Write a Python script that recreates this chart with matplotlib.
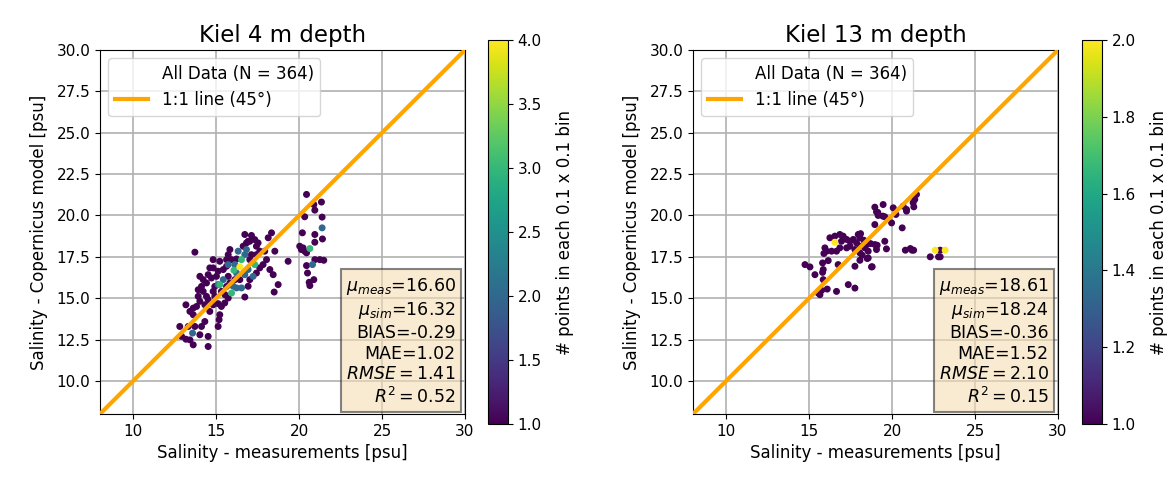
import numpy as np
import matplotlib
matplotlib.use("Agg")
import matplotlib.pyplot as plt

# ---------------------------------------------------------------------------
# Data (salinity, psu) + points per 0.1 x 0.1 bin
# ---------------------------------------------------------------------------
# Kiel 4 m depth
meas_4m = [20.45, 20.89, 21.35, 20.95, 20.34, 21.39, 21.39, 20.20, 20.95, 21.41,
           20.95, 20.04, 20.14, 20.34, 20.45, 20.65, 20.24, 20.95, 21.25, 21.49,
           20.81, 20.45, 20.51, 20.89, 20.65, 20.61,
           13.72, 14.82, 14.62, 16.73, 17.13, 17.33, 17.53, 18.34, 18.14, 16.83,
           17.03, 16.63, 16.33, 16.83, 15.83, 15.73, 15.93, 15.63, 15.22, 16.23,
           16.53, 17.13, 17.43, 17.63, 17.93, 18.54, 18.04, 17.83, 18.24, 18.44,
           19.34, 18.74, 18.50, 17.63, 17.43, 17.03, 16.93, 17.23, 17.33, 16.93,
           16.43, 16.07, 16.73, 16.43, 16.13, 16.23, 15.93, 15.73, 15.63, 15.43,
           15.12, 14.92, 15.32, 15.52, 15.32, 15.12, 14.82, 15.22, 15.18, 15.12,
           14.52, 14.32, 14.02, 13.82, 13.62, 13.18, 13.42, 13.92, 14.22, 14.12,
           14.42, 14.22, 14.02, 14.52, 14.72, 14.82, 15.12, 15.43, 15.63, 15.02,
           15.73, 13.62, 12.81, 13.32, 13.72, 14.12, 13.58, 14.02, 14.52, 13.18,
           13.42, 13.62, 14.52, 12.92, 14.32, 14.62, 14.92, 15.73, 16.23, 15.83,
           16.53, 16.73, 16.93, 17.43, 17.03, 16.73, 16.13, 15.22, 16.03, 15.53,
           14.82, 13.92, 14.42]
sim_4m = [21.27, 20.66, 20.81, 20.32, 19.92, 19.90, 19.25, 18.95, 18.85, 18.58,
          18.38, 18.14, 17.94, 17.84, 17.74, 18.00, 18.04, 17.33, 17.33, 17.29,
          17.03, 16.97, 16.52, 16.12, 15.76, 15.96,
          17.78, 17.33, 16.83, 18.85, 18.79, 18.54, 18.34, 18.95, 18.65, 18.34,
          18.44, 18.14, 17.84, 17.94, 17.94, 17.63, 17.33, 17.33, 17.23, 17.37,
          17.33, 17.63, 17.63, 17.84, 17.84, 17.84, 17.33, 17.03, 16.73, 16.42,
          17.23, 15.82, 15.37, 16.83, 16.52, 16.12, 15.72, 16.32, 17.03, 16.73,
          16.89, 16.69, 16.42, 16.12, 16.12, 15.62, 15.31, 15.01, 15.71, 16.12,
          15.82, 15.71, 15.41, 14.71, 14.50, 14.67, 14.60, 14.00, 13.70, 13.29,
          14.91, 14.60, 14.81, 14.50, 14.40, 14.60, 14.20, 15.11, 15.41, 15.71,
          15.92, 16.12, 16.32, 16.42, 16.22, 16.83, 16.63, 16.73, 16.93, 16.32,
          16.32, 14.00, 13.29, 13.29, 13.29, 13.29, 12.89, 12.79, 12.69, 12.52,
          12.48, 12.18, 12.08, 12.69, 13.59, 14.20, 15.11, 17.03, 16.52, 15.92,
          15.62, 15.07, 18.44, 18.14, 17.33, 17.63, 17.03, 15.82, 15.72, 15.21,
          15.41, 15.51, 15.11]
count_4m = [1, 1, 1, 1, 1, 1, 2, 1, 1, 1,
            1, 1, 1, 1, 1, 3, 1, 1, 1, 1,
            2, 1, 1, 1, 1, 1,
            1, 1, 1, 1, 1, 1, 1, 1, 1, 1,
            1, 1, 2, 2, 1, 1, 1, 1, 1, 1,
            3, 1, 1, 1, 1, 1, 1, 1, 1, 1,
            1, 1, 1, 1, 1, 1, 1, 2, 3, 2,
            4, 3, 2, 1, 1, 2, 3, 1, 1, 2,
            2, 1, 1, 1, 1, 1, 1, 1, 1, 1,
            1, 1, 1, 1, 1, 1, 1, 1, 1, 1,
            1, 1, 1, 1, 1, 1, 1, 1, 1, 1,
            1, 1, 1, 1, 1, 1, 2, 1, 1, 1,
            1, 1, 1, 1, 1, 1, 1, 2, 2, 1,
            2, 1, 1, 1, 1, 2, 2, 3, 2, 1,
            1, 1, 1]

# Kiel 13 m depth
meas_13m = [14.75, 15.05, 15.35, 15.81, 15.85, 15.81, 16.15, 15.95, 16.05, 15.89,
            16.25, 16.55, 16.85, 17.05, 17.26, 16.55, 16.95, 17.46, 17.66, 17.96,
            18.06, 17.86, 16.85, 17.26, 17.46, 17.76, 18.06, 18.36, 18.46, 16.35,
            16.65, 18.06, 18.56, 18.96, 19.06, 19.66, 19.56, 16.75, 17.76, 18.06,
            18.56, 18.76, 15.85, 16.09, 15.55, 15.75, 16.65, 17.36, 17.76, 15.65,
            18.96, 19.06, 19.46, 19.16, 19.56, 20.07, 20.23, 20.67, 20.87, 21.27,
            21.37, 21.47, 19.97, 18.96, 20.61, 21.31, 20.87, 19.14, 19.44, 18.10,
            18.30, 18.70, 19.10, 20.80, 21.10, 21.20, 21.30, 22.30, 22.80, 22.90,
            22.60, 22.90, 23.20, 18.20, 18.50, 18.80]
sim_13m = [17.03, 16.89, 16.42, 17.13, 16.73, 16.56, 17.27, 18.04, 17.84, 17.70,
           18.65, 18.75, 18.85, 18.75, 18.55, 18.38, 18.44, 18.44, 18.55, 18.85,
           18.65, 18.34, 18.04, 18.04, 18.14, 17.94, 18.14, 18.04, 18.24, 17.84,
           17.84, 17.74, 17.84, 18.24, 17.94, 17.98, 18.44, 17.03, 16.93, 17.29,
           17.43, 16.89, 16.12, 15.55, 15.31, 15.47, 15.41, 15.82, 15.61, 15.21,
           20.50, 20.22, 20.66, 20.00, 19.92, 20.46, 20.06, 20.56, 20.26, 20.77,
           20.97, 21.27, 19.55, 19.45, 19.25, 20.52, 20.36, 20.18, 19.96, 18.90,
           18.50, 18.30, 18.20, 17.90, 18.00, 17.90, 17.90, 17.50, 17.50, 17.50,
           17.90, 17.90, 17.90, 17.60, 17.40, 16.90]
count_13m = [1] * len(meas_13m)
count_13m[15] = 2   # yellow bin near (16.5, 18.4)
count_13m[80] = 2   # yellow bins near (22.6-23.2, 17.9)
count_13m[82] = 2

stats_4m = [16.60, 16.32, -0.29, 1.02, 1.41, 0.52]
stats_13m = [18.61, 18.24, -0.36, 1.52, 2.10, 0.15]
n_obs = [364, 364]

LIM = (8, 30)

plt.rcParams['font.family'] = 'DejaVu Sans'
fig = plt.figure(figsize=(11.75, 4.78), dpi=100)

panels = [
    ("Kiel 4 m depth", meas_4m, sim_4m, count_4m, stats_4m, n_obs[0], 4.0,
     [0.0851, 0.1339, 0.3106, 0.7615], [0.4153, 0.113, 0.017, 0.803],
     np.arange(1.0, 4.01, 0.5)),
    ("Kiel 13 m depth", meas_13m, sim_13m, count_13m, stats_13m, n_obs[1], 2.0,
     [0.5898, 0.1339, 0.3106, 0.7615], [0.9209, 0.113, 0.017, 0.803],
     np.arange(1.0, 2.01, 0.2)),
]

for title, xm, ys, cnt, st, n, vmax, pos, cpos, cticks in panels:
    ax = fig.add_axes(pos)
    cax = fig.add_axes(cpos)

    # draw densest bins last so they sit on top
    order = np.argsort(cnt, kind="stable")
    xm = np.asarray(xm)[order]
    ys = np.asarray(ys)[order]
    cnt = np.asarray(cnt)[order]

    ax.grid(True, color='#b0b0b0', linewidth=1.2, zorder=0)
    sc = ax.scatter(xm, ys, c=cnt, cmap='viridis', vmin=1, vmax=vmax,
                    s=16, zorder=3)
    ax.plot([], [], ' ', label=f'All Data (N = {n})')
    ax.plot(LIM, LIM, color='orange', linewidth=3, label='1:1 line (45°)', zorder=4)

    ax.set_xlim(LIM)
    ax.set_ylim(LIM)
    ax.set_xticks([10, 15, 20, 25, 30])
    ax.set_yticks(np.arange(10, 30.1, 2.5))
    ax.set_yticklabels([f"{v:.1f}" for v in np.arange(10, 30.1, 2.5)])
    ax.tick_params(labelsize=11)
    ax.set_xlabel('Salinity - measurements [psu]', fontsize=12)
    ax.set_ylabel('Salinity - Copernicus model [psu]', fontsize=12, labelpad=6)
    ax.set_title(title, fontsize=16.5)
    ax.legend(loc='upper left', fontsize=12)

    txt = (r'$\mu_{meas}$=' + f'{st[0]:.2f}\n'
           + r'$\mu_{sim}$=' + f'{st[1]:.2f}\n'
           + f'BIAS={st[2]:.2f}\n'
           + f'MAE={st[3]:.2f}\n'
           + r'$RMSE = ' + f'{st[4]:.2f}' + r'$' + '\n'
           + r'$R^2 = ' + f'{st[5]:.2f}' + r'$')
    ax.text(0.975, 0.02, txt, transform=ax.transAxes, ha='right', va='bottom',
            multialignment='right', fontsize=12.5, zorder=6,
            bbox=dict(boxstyle='square,pad=0.3', facecolor='wheat', alpha=0.6,
                      edgecolor='#333333', linewidth=1.5))

    cb = fig.colorbar(sc, cax=cax, ticks=cticks)
    cb.ax.tick_params(labelsize=11)
    cb.set_label('# points in each 0.1 x 0.1 bin', fontsize=12, labelpad=10)

fig.savefig('out.png', dpi=100)
